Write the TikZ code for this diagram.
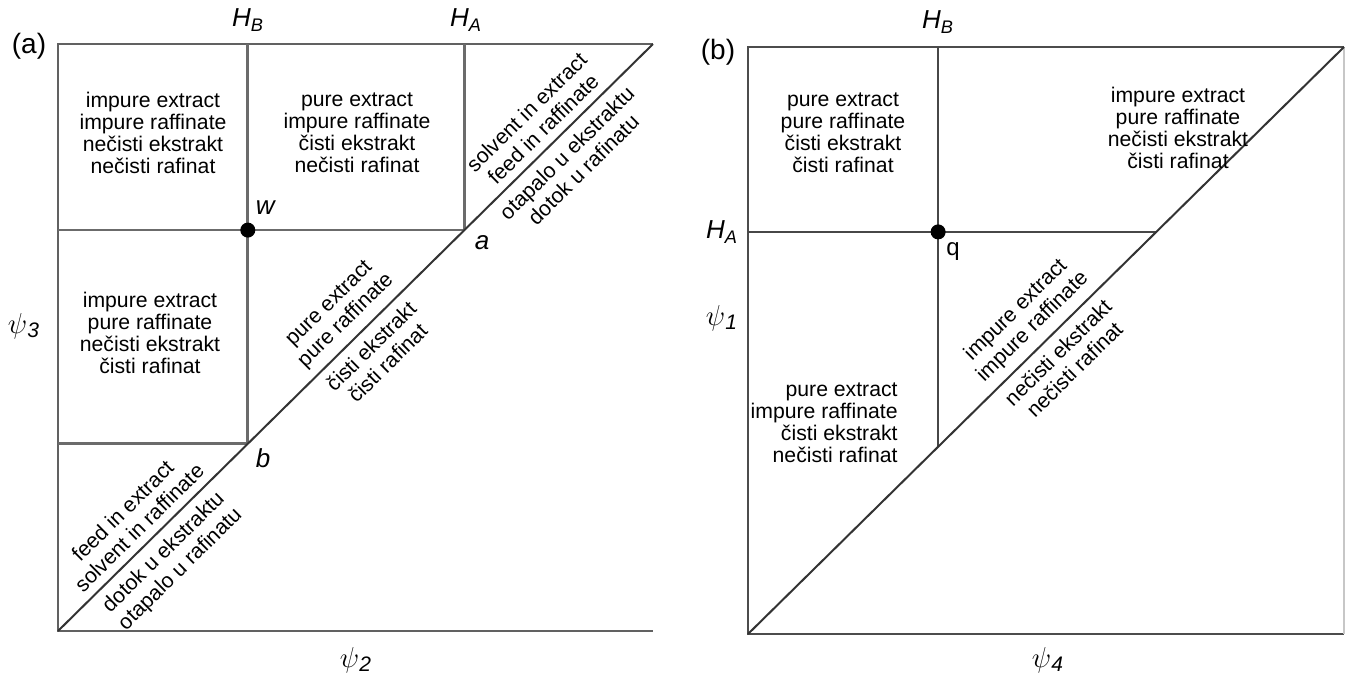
\documentclass[tikz,border=0pt]{standalone}
\usepackage{fontspec}
\setmainfont{Liberation Sans}
\usetikzlibrary{calc}
\begin{document}
\begin{tikzpicture}[x=0.5pt,y=-0.5pt,
  frame/.style={draw=black!62, line width=1.4pt},
  gridl/.style={draw=black!58, line width=1.4pt},
  gridr/.style={draw=black!72, line width=1.2pt},
  diag/.style={draw=black!80, line width=1.0pt},
  txt/.style={font=\fontsize{10.6}{11}\selectfont, align=center, inner sep=0pt},
  dtxt/.style={font=\fontsize{10.6}{11.8}\selectfont, align=center, sloped, inner sep=4pt},
  lbl/.style={font=\fontsize{13}{15}\selectfont, inner sep=0pt},
  psilbl/.style={font=\fontsize{15}{17}\selectfont, inner sep=0pt},
  dot/.style={circle, fill=black, inner sep=0pt, minimum size=7.5pt}]
\useasboundingbox[fill=white] (0,0) rectangle (1349,677);

% ---------- panel (a) ----------
\coordinate (aTL) at (58,44);
\coordinate (aBL) at (58,631);
\coordinate (aBR) at (653,631);
\coordinate (aTR) at (653,44);
\coordinate (pa) at ($(aBL)!0.683!(aTR)$);
\coordinate (pb) at ($(aBL)!0.319!(aTR)$);
\coordinate (haT) at (pa |- aTL);
\coordinate (hbT) at (pb |- aTL);
\coordinate (wL) at (pa -| aBL);
\coordinate (bL) at (pb -| aBL);
\coordinate (wpt) at (hbT |- pa);

\draw[frame] (aTR) -- (aTL) -- (aBL) -- (aBR);
\draw[gridl] (hbT) -- (pb);
\draw[gridl] (haT) -- (pa);
\draw[gridl] (wL) -- (pa);
\draw[gridl] (bL) -- (pb);
\draw[diag] (aBL) -- (aTR)
  node[dtxt, pos=0.156, above] (d1) {feed in extract\\solvent in raffinate}
  node[dtxt, pos=0.156, below] (d2) {dotok u ekstraktu\\otapalo u rafinatu}
  node[dtxt, pos=0.506, above] (d3) {pure extract\\pure raffinate}
  node[dtxt, pos=0.506, below] (d4) {čisti ekstrakt\\čisti rafinat}
  node[dtxt, pos=0.835, above] (d5) {solvent in extract\\feed in raffinate}
  node[dtxt, pos=0.835, below] (d6) {otapalo u ekstraktu\\dotok u rafinatu};
\node[dot] (w) at (wpt) {};

\node[lbl, font=\fontsize{14}{16}\selectfont] (la) at (29,46) {(a)};
\node[lbl] (laHB) at (248,20) {\textit{H}\textsubscript{\textit{B}}};
\node[lbl] (laHA) at (466,20) {\textit{H}\textsubscript{\textit{A}}};
\node[txt] (t1) at (153,133) {impure extract\\impure raffinate\\nečisti ekstrakt\\nečisti rafinat};
\node[txt] (t2) at (357,133) {pure extract\\impure raffinate\\čisti ekstrakt\\nečisti rafinat};
\node[txt] (t3) at (150,333) {impure extract\\pure raffinate\\nečisti ekstrakt\\čisti rafinat};
\node[lbl] (lw) at (266,208) {\textit{w}};
\node[lbl] (lpa) at (482,243) {\textit{a}};
\node[lbl] (lpb) at (263,458) {\textit{b}};
\node[psilbl] (psi3) at (24,326) {$\psi$\textsubscript{\textit{3}}};
\node[psilbl] (psi2) at (356,660) {$\psi$\textsubscript{\textit{2}}};

% ---------- panel (b) ----------
\coordinate (bTL) at (748,47);
\coordinate (bBL) at (748,634);
\coordinate (bBR) at (1344,634);
\coordinate (bTR) at (1344,47);
\coordinate (qv) at ($(bBL)!0.319!(bTR)$);
\coordinate (qh) at ($(bBL)!0.685!(bTR)$);
\coordinate (qT) at (qv |- bTL);
\coordinate (qL) at (qh -| bBL);
\coordinate (qpt) at (qv |- qh);

\draw[frame, draw=black!70] (bTR) -- (bTL) -- (bBL) -- (bBR);
\draw[draw=black!22, line width=1.3pt] (bBR) -- (bTR);
\draw[gridr] (qT) -- (qv);
\draw[gridr] (qL) -- (qh);
\draw[diag] (bBL) -- (bTR)
  node[dtxt, pos=0.5, above] (e1) {impure extract\\impure raffinate}
  node[dtxt, pos=0.5, below] (e2) {nečisti ekstrakt\\nečisti rafinat};
\node[dot] (q) at (qpt) {};

\node[lbl, font=\fontsize{14}{16}\selectfont] (lb) at (718,52) {(b)};
\node[lbl] (lbHB) at (938,22) {\textit{H}\textsubscript{\textit{B}}};
\node[lbl] (lbHA) at (722,232) {\textit{H}\textsubscript{\textit{A}}};
\node[psilbl] (psi1) at (722,318) {$\psi$\textsubscript{\textit{1}}};
\node[psilbl] (psi4) at (1048,660) {$\psi$\textsubscript{\textit{4}}};
\node[lbl, font=\fontsize{12}{14}\selectfont] (lq) at (953,252) {q};
\node[txt] (t4) at (843,133) {pure extract\\pure raffinate\\čisti ekstrakt\\čisti rafinat};
\node[txt] (t5) at (1178,128) {impure extract\\pure raffinate\\nečisti ekstrakt\\čisti rafinat};
\node[txt, align=right, anchor=east] (t6) at (898,423) {pure extract\\impure raffinate\\čisti ekstrakt\\nečisti rafinat};
\end{tikzpicture}
\end{document}
